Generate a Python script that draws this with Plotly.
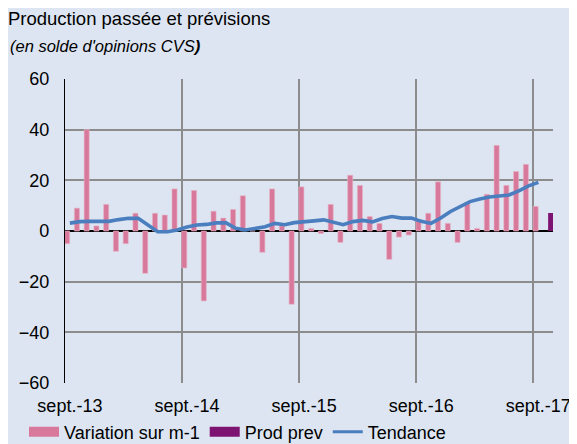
import plotly.graph_objects as go

# ---- data ----
x_tick_labels = ["sept.-13", "sept.-14", "sept.-15", "sept.-16", "sept.-17"]
months_per_label = 12
n_months = 50  # sept.-13 .. oct.-17

variation = [-5, 9, 40, 2, 10.5, -8, -5, 7, -16.7, 7, 6.3, 16.6,
             -14.6, 16, -27.6, 7.8, 5.1, 8.5, 13.9, 0, -8.4, 16.6, 2, -28.9,
             17.4, 1, -1, 10.5, -4.5, 22, 18, 5.7, 3, -11.2, -2.4, -1.6,
             4.5, 7, 19.4, 3, -4.5, 11.3, 1, 14.5, 33.8, 18, 23.5, 26.3,
             9.7]
prod_prev = [7.1]
tendance = [3.1, 3.7, 3.8, 3.8, 3.8, 4.5, 5.0, 5.0, 2.4, -0.3, -0.3, 0.4,
            1.6, 2.4, 2.6, 3.2, 3.2, 1.1, 0.4, 0.9, 1.7, 3.0, 2.5, 3.3,
            3.8, 4.0, 4.4, 3.6, 2.5, 3.7, 4.2, 3.6, 4.9, 5.7, 5.1, 5.1,
            3.8, 3.0, 5.1, 7.7, 9.6, 11.6, 12.6, 13.4, 13.8, 14.2, 15.8, 17.8,
            19.2]
y_ticks = [-60, -40, -20, 0, 20, 40, 60]

x_var = list(range(len(variation)))
x_prev = list(range(len(variation), len(variation) + len(prod_prev)))
x_tend = list(range(len(tendance)))
tick_pos = [i * months_per_label for i in range(len(x_tick_labels))]
grid_pos = [p - 0.5 for p in tick_pos]

BG = "#DCE5F1"
PINK = "#D8789B"
PURPLE = "#7E1472"
BLUE = "#4A7EBE"
GRID = "#8C8C8C"
FONT = "Liberation Sans, Arial, sans-serif"

# the page puts the figure 8px from the window's top-left corner
W, H = 569, 436
L, R, T, B = 57, 24, 71, 61
PW, PH = W - L - R, H - T - B

fig = go.Figure()
fig.add_trace(go.Bar(x=x_var, y=variation, name="Variation sur m-1",
                     width=0.52, offset=-0.54,
                     marker=dict(color=PINK, line=dict(color="#E8B3C6", width=0.6)),
                     showlegend=False, legendgroup="a"))
fig.add_trace(go.Bar(x=x_prev, y=prod_prev, name="Prod prev",
                     width=0.55, offset=0.0,
                     marker=dict(color=PURPLE, line=dict(width=0)),
                     showlegend=False, legendgroup="b"))
fig.add_trace(go.Scatter(x=x_tend, y=tendance, mode="lines", name="Tendance",
                         line=dict(color=BLUE, width=3.6), showlegend=False, legendgroup="c"))
# legend entries
fig.add_trace(go.Scatter(x=[None], y=[None], mode="lines", name="Variation sur m-1",
                         line=dict(color=PINK, width=12), legendgroup="a"))
fig.add_trace(go.Scatter(x=[None], y=[None], mode="lines", name="Prod prev",
                         line=dict(color=PURPLE, width=12), legendgroup="b"))
fig.add_trace(go.Scatter(x=[None], y=[None], mode="lines", name="Tendance",
                         line=dict(color=BLUE, width=3), legendgroup="c"))

fig.update_layout(
    width=W, height=H,
    paper_bgcolor=BG, plot_bgcolor=BG,
    margin=dict(l=L, r=R, t=T, b=B, autoexpand=False),
    font=dict(family=FONT, size=18, color="#000000"),
    barmode="overlay",
    title=dict(text="Production passée et prévisions", x=0, xanchor="left",
               y=1 - 11 / H, yanchor="middle", font=dict(size=18.5, family=FONT)),
    annotations=[dict(text="<i>(en solde d'opinions CVS</i><b><i>)</i></b>",
                      xref="paper", yref="paper", x=-L / PW, y=1 + 33 / PH,
                      xanchor="left", yanchor="middle", showarrow=False,
                      font=dict(size=16.5, family=FONT))],
    legend=dict(orientation="h", x=-41 / PW, xanchor="left", y=-49 / PH, yanchor="middle",
                font=dict(size=18, family=FONT), bgcolor="rgba(0,0,0,0)",
                traceorder="normal"),
    showlegend=True,
)
fig.update_xaxes(range=[-0.5, n_months - 0.5], tickmode="array", tickvals=tick_pos,
                 ticktext=x_tick_labels, tickangle=0, showgrid=False,
                 minor=dict(tickmode="array", tickvals=grid_pos, showgrid=True,
                            gridcolor=GRID, gridwidth=1.5, ticks=""),
                 ticks="", showline=False, zeroline=False, ticklabelstandoff=10,
                 automargin=False, tickfont=dict(size=18))
fig.update_yaxes(range=[-60, 60], tickvals=y_ticks, showgrid=True, gridcolor=GRID, gridwidth=1.5,
                 zeroline=True, zerolinecolor="#000000", zerolinewidth=1.5,
                 showline=True, linecolor="#000000", linewidth=1.2, automargin=False,
                 ticks="", ticklabelstandoff=11, tickfont=dict(size=18))

fig.write_html("out.html")
